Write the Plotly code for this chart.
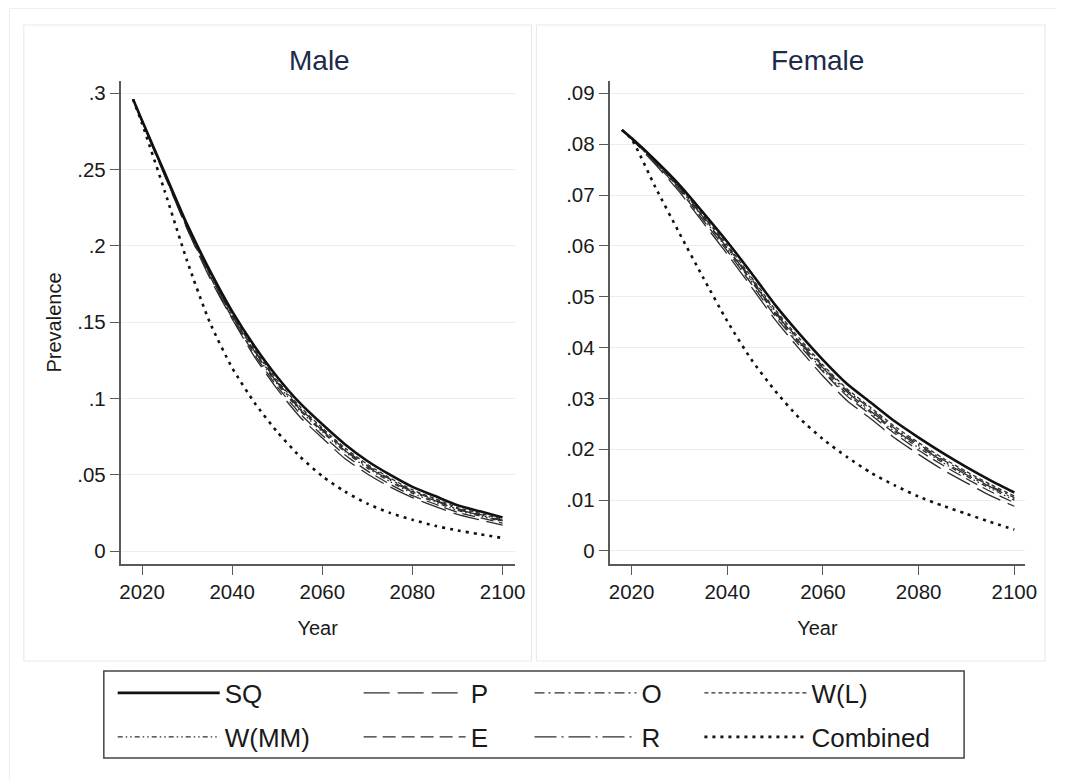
import plotly.graph_objects as go

# The page body adds an 8px margin, so the figure is sized to the remaining window
OFF = 8
W, H = 1065 - OFF, 781 - OFF

years = [2018, 2020, 2025, 2030, 2035, 2040, 2045, 2050, 2055, 2060,
         2065, 2070, 2075, 2080, 2085, 2090, 2095, 2100]

scenarios = ["SQ", "P", "O", "W(L)", "W(MM)", "E", "R", "Combined"]

male_SQ = [0.296, 0.282, 0.248, 0.214, 0.184, 0.157, 0.134, 0.114, 0.097, 0.083,
           0.070, 0.059, 0.050, 0.042, 0.036, 0.030, 0.026, 0.022]
male_P = [0.296, 0.281, 0.246, 0.211, 0.179, 0.152, 0.127, 0.106, 0.088, 0.074,
          0.0606, 0.0505, 0.0420, 0.0350, 0.0292, 0.0240, 0.0204, 0.0169]
male_O = [0.296, 0.282, 0.2473, 0.2127, 0.1822, 0.1548, 0.1313, 0.1109, 0.0937, 0.0797,
          0.0667, 0.0559, 0.0471, 0.0393, 0.0335, 0.0278, 0.0240, 0.0202]
male_WL = [0.296, 0.282, 0.2475, 0.2131, 0.1827, 0.1554, 0.1321, 0.1118, 0.0947, 0.0806,
           0.0676, 0.0568, 0.0479, 0.0401, 0.0343, 0.0285, 0.0246, 0.0208]
male_WMM = [0.296, 0.2817, 0.2468, 0.2119, 0.1812, 0.1535, 0.1300, 0.1094, 0.0922, 0.0780,
            0.0651, 0.0543, 0.0455, 0.0378, 0.0321, 0.0266, 0.0229, 0.0193]
male_E = [0.296, 0.2817, 0.2463, 0.2114, 0.1803, 0.1526, 0.1286, 0.1077, 0.0902, 0.0759,
          0.0630, 0.0525, 0.0438, 0.0363, 0.0308, 0.0254, 0.0218, 0.0183]
male_R = [0.296, 0.282, 0.2470, 0.2123, 0.1818, 0.1542, 0.1307, 0.1102, 0.0929, 0.0789,
          0.0659, 0.0552, 0.0464, 0.0387, 0.0330, 0.0273, 0.0235, 0.0198]
male_Combined = [0.296, 0.280, 0.236, 0.190, 0.150, 0.120, 0.097, 0.078, 0.062, 0.049,
                 0.039, 0.031, 0.025, 0.0205, 0.0165, 0.0135, 0.011, 0.0085]

female_SQ = [0.0828, 0.0812, 0.0768, 0.0720, 0.0665, 0.0608, 0.0547, 0.0484, 0.0428, 0.0376,
             0.0329, 0.0292, 0.0255, 0.0223, 0.0193, 0.0165, 0.0139, 0.0115]
female_P = [0.0828, 0.0810, 0.0760, 0.0706, 0.0645, 0.0584, 0.0520, 0.0455, 0.0398, 0.0344,
            0.0296, 0.0260, 0.0222, 0.0190, 0.0160, 0.0134, 0.0109, 0.0088]
female_O = [0.0828, 0.0812, 0.0766, 0.0716, 0.0658, 0.0599, 0.0536, 0.0472, 0.0415, 0.0363,
            0.0316, 0.0279, 0.0241, 0.0210, 0.0180, 0.0153, 0.0128, 0.0105]
female_WL = [0.0828, 0.0812, 0.0766, 0.0717, 0.0660, 0.0602, 0.0539, 0.0475, 0.0419, 0.0366,
             0.0319, 0.0282, 0.0245, 0.0213, 0.0183, 0.0156, 0.0131, 0.0108]
female_WMM = [0.0828, 0.0812, 0.0764, 0.0713, 0.0654, 0.0594, 0.0531, 0.0466, 0.0409, 0.0356,
              0.0309, 0.0272, 0.0235, 0.0203, 0.0174, 0.0147, 0.0123, 0.0100]
female_E = [0.0828, 0.0811, 0.0763, 0.0710, 0.0650, 0.0590, 0.0526, 0.0462, 0.0405, 0.0353,
            0.0305, 0.0268, 0.0231, 0.0198, 0.0169, 0.0142, 0.0117, 0.0095]
female_R = [0.0828, 0.0812, 0.0765, 0.0714, 0.0656, 0.0596, 0.0533, 0.0469, 0.0412, 0.0360,
            0.0313, 0.0275, 0.0238, 0.0207, 0.0177, 0.0150, 0.0126, 0.0103]
female_Combined = [0.0828, 0.0810, 0.0715, 0.0625, 0.0537, 0.0452, 0.0377, 0.0315, 0.0262, 0.0220,
                   0.0185, 0.0154, 0.0129, 0.0107, 0.0089, 0.0073, 0.0057, 0.0042]

male_series = [male_SQ, male_P, male_O, male_WL, male_WMM, male_E, male_R, male_Combined]
female_series = [female_SQ, female_P, female_O, female_WL, female_WMM, female_E, female_R, female_Combined]

x_ticks = [2020, 2040, 2060, 2080, 2100]
male_yticks = [0, 0.05, 0.1, 0.15, 0.2, 0.25, 0.3]
male_yticktext = ["0", ".05", ".1", ".15", ".2", ".25", ".3"]
female_yticks = [0, 0.01, 0.02, 0.03, 0.04, 0.05, 0.06, 0.07, 0.08, 0.09]
female_yticktext = ["0", ".01", ".02", ".03", ".04", ".05", ".06", ".07", ".08", ".09"]

THIN = "#2c2c2c"
styles = {
    "SQ": dict(color="#111111", width=2.6, dash="solid"),
    "P": dict(color=THIN, width=1.3, dash="26px,8px"),
    "O": dict(color=THIN, width=1.3, dash="10px,4px,2px,4px"),
    "W(L)": dict(color=THIN, width=1.3, dash="4px,3px"),
    "W(MM)": dict(color=THIN, width=1.3, dash="5px,3px,1.5px,3px,1.5px,3px"),
    "E": dict(color=THIN, width=1.3, dash="13px,6px"),
    "R": dict(color=THIN, width=1.3, dash="22px,5px,2px,5px"),
    "Combined": dict(color="#111111", width=2.6, dash="3px,5px"),
}

FONT = "Liberation Sans, Arial, sans-serif"
TXT = "#1a1a1a"


def px(x):  # page pixel -> paper fraction
    return (x - OFF) / W


def py(y):
    return 1 - (y - OFF) / H


# legend layout: 4 columns x 2 rows inside one framed box (page pixels)
legend_cols = [118, 367, 540, 712]
legend_rows = [693, 737]
legend_ids = ["legend", "legend2", "legend3", "legend4",
              "legend5", "legend6", "legend7", "legend8"]

fig = go.Figure()
order = [1, 2, 3, 4, 5, 6, 0, 7]   # thin lines first, heavy ones on top
for i in order:
    name = scenarios[i]
    fig.add_trace(go.Scatter(x=years, y=male_series[i], mode="lines", name=name,
                             line=dict(shape="spline", smoothing=0.6, **styles[name]),
                             legend=legend_ids[i], showlegend=True,
                             xaxis="x", yaxis="y"))
for i in order:
    name = scenarios[i]
    fig.add_trace(go.Scatter(x=years, y=female_series[i], mode="lines", name=name,
                             line=dict(shape="spline", smoothing=0.6, **styles[name]),
                             showlegend=False, xaxis="x2", yaxis="y2"))

axis_common = dict(showline=True, linecolor="#5a5a5a", linewidth=1.5,
                   ticks="outside", ticklen=9, tickcolor="#5a5a5a", tickwidth=1.3,
                   tickfont=dict(family=FONT, size=20.5, color=TXT),
                   zeroline=False, mirror=False)

ydom = [py(564), py(81)]
title_font = dict(family=FONT, size=20, color=TXT)

layout_legends = {}
for i, lid in enumerate(legend_ids):
    col, row = i % 4, i // 4
    layout_legends[lid] = dict(
        orientation="v", x=px(legend_cols[col] - 5), xanchor="left",
        y=py(legend_rows[row]), yanchor="middle",
        bgcolor="rgba(0,0,0,0)", borderwidth=0,
        font=dict(family=FONT, size=26, color=TXT),
        itemwidth=102)

fig.update_layout(
    width=W, height=H,
    margin=dict(l=0, r=0, t=0, b=0),
    paper_bgcolor="white", plot_bgcolor="white",
    font=dict(family=FONT, color=TXT),
    xaxis=dict(domain=[px(121), px(520)], range=[2015.24, 2102.7], anchor="y",
               tickvals=x_ticks, showgrid=False,
               title=dict(text="Year", font=title_font, standoff=19),
               **axis_common),
    yaxis=dict(domain=ydom, range=[-0.0085, 0.3079], anchor="x",
               tickvals=male_yticks, ticktext=male_yticktext,
               showgrid=True, gridcolor="#e9eef1", gridwidth=1.2,
               title=dict(text="Prevalence", font=title_font, standoff=10),
               **axis_common),
    xaxis2=dict(domain=[px(616), px(1037)], range=[2015.4, 2102.3], anchor="y2",
                tickvals=x_ticks, showgrid=False,
                title=dict(text="Year", font=title_font, standoff=19),
                **axis_common),
    yaxis2=dict(domain=ydom, range=[-0.00256, 0.09242], anchor="x2",
                tickvals=female_yticks, ticktext=female_yticktext,
                showgrid=True, gridcolor="#e9eef1", gridwidth=1.2,
                **axis_common),
    showlegend=True,
    **layout_legends,
)

# faint frames of the graph region and the two panels, and the legend box
frames = [
    (8.5, 8.5, 1200, 900, "#eef1f3", 1.2),
    (23, 25, 537, 661, "#e6ebee", 1.2),
    (542, 25, 1057, 661, "#e6ebee", 1.2),
    (104, 671, 975, 758, "#444444", 1.5),
]
for x0, y0, x1, y1, c, lw in frames:
    fig.add_shape(type="rect", xref="paper", yref="paper",
                  x0=px(x0), x1=px(x1), y0=py(y1), y1=py(y0),
                  line=dict(color=c, width=lw), fillcolor="rgba(0,0,0,0)", layer="below")

# panel titles
for label, cx in [("Male", 322), ("Female", 827)]:
    fig.add_annotation(text=label, xref="paper", yref="paper", x=px(cx), y=py(60),
                       xanchor="center", yanchor="middle", showarrow=False,
                       font=dict(family=FONT, size=28, color="#1c2b4a"))

fig.write_html("out.html")
